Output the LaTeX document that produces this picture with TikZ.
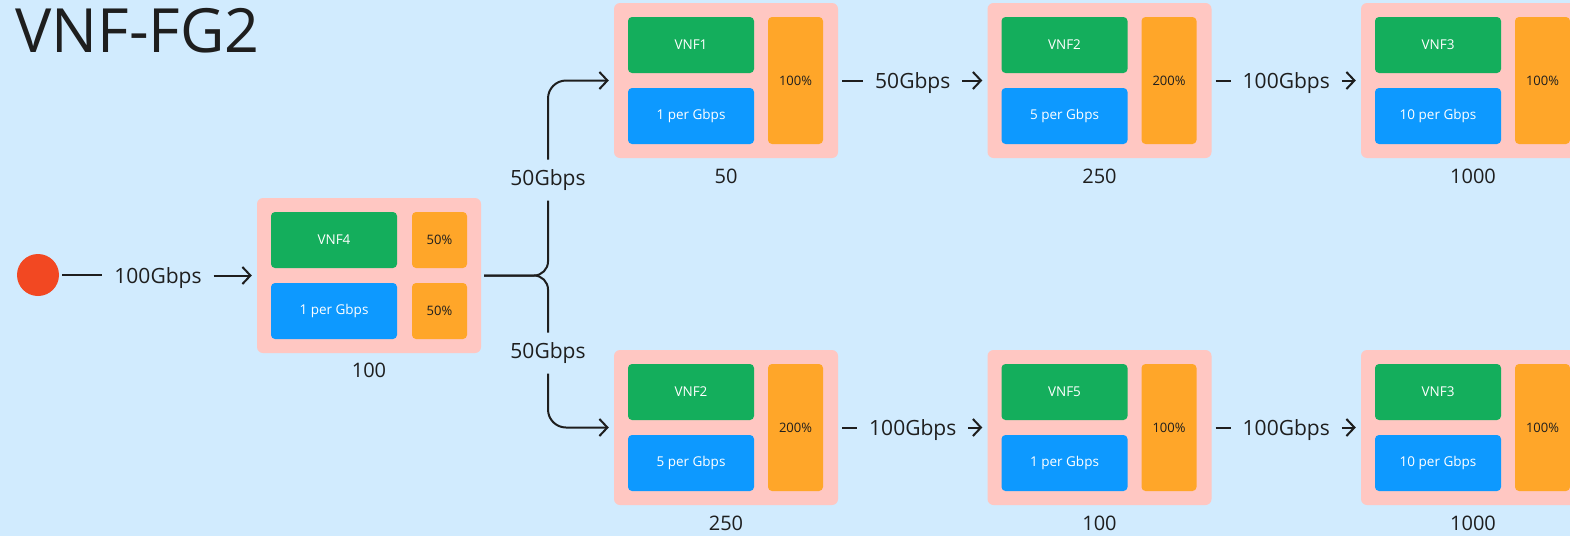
\documentclass[tikz,border=0pt]{standalone}
\usepackage{fontspec}
\setmainfont{Open Sans}
\usepackage{tikz}
\usetikzlibrary{arrows.meta,positioning,calc}
\definecolor{canvasblue}{HTML}{D1EBFE}
\definecolor{hostpink}{HTML}{FFC7C2}
\definecolor{vnfgreen}{HTML}{14AE5C}
\definecolor{costblue}{HTML}{0D99FF}
\definecolor{loadorange}{HTML}{FFA629}
\definecolor{srcred}{HTML}{F24822}
\definecolor{inkdark}{HTML}{1E1E1E}

\begin{document}
\begin{tikzpicture}[
  x=1pt, y=-1pt,
  every node/.style={text=inkdark},
  host/.style={fill=hostpink, rounded corners=6pt, minimum width=224pt,
    minimum height=155pt, inner sep=0pt},
  vnfbox/.style={fill=vnfgreen, text=white, rounded corners=4pt, inner sep=0pt,
    minimum width=126pt, minimum height=56pt, font=\fontsize{13.5}{16}\selectfont},
  costbox/.style={vnfbox, fill=costblue},
  loadbox/.style={fill=loadorange, rounded corners=4pt, inner sep=0pt,
    minimum width=55pt, font=\fontsize{13}{16}\selectfont},
  total/.style={font=\fontsize{20}{24}\selectfont, inner sep=0pt},
  rate/.style={font=\fontsize{21}{25}\selectfont, inner sep=0pt,
    outer xsep=12pt, outer ysep=10pt},
  flow/.style={draw=inkdark, line width=2pt},
  feed/.style={flow, -{Straight Barb[length=8pt,width=17pt]}, shorten >=5pt},
]

%% canvas
\fill[canvasblue] (0,0) rectangle (1570,536);
\clip (0,0) rectangle (1570,536);

\node[anchor=base west, font=\fontsize{61}{64}\selectfont] (title) at (12,52) {VNF-FG2};

%% source and the first host
\node[circle, fill=srcred, minimum size=42pt, inner sep=0pt] (src) at (38,275) {};

\node[host] (hub) at (369,275.5) {};
\node[vnfbox, anchor=north west] (hub-vnf) at ($(hub.north west)+(14,14)$) {VNF4};
\node[costbox, anchor=south west] (hub-cost) at ($(hub.south west)+(14,-14)$) {1 per Gbps};
\node[loadbox, minimum height=56pt, anchor=north east] (hub-load) at ($(hub.north east)+(-14,14)$) {50\%};
\node[loadbox, minimum height=56pt, anchor=south east] (hub-load2) at ($(hub.south east)+(-14,-14)$) {50\%};
\node[total] (hub-tot) at ($(hub.south)+(0,17)$) {100};

%% hosts on the two branches
\foreach \n/\cx/\cy/\vnf/\cost/\load/\tot in {
  up1/726/80.5/VNF1/{1 per Gbps}/100/50,
  up2/1099.5/80.5/VNF2/{5 per Gbps}/200/250,
  up3/1473/80.5/VNF3/{10 per Gbps}/100/1000,
  dn1/726/427.5/VNF2/{5 per Gbps}/200/250,
  dn2/1099.5/427.5/VNF5/{1 per Gbps}/100/100,
  dn3/1473/427.5/VNF3/{10 per Gbps}/100/1000%
}{
  \node[host] (\n) at (\cx,\cy) {};
  \node[vnfbox, anchor=north west] (\n-vnf) at ($(\n.north west)+(14,14)$) {\vnf};
  \node[costbox, anchor=south west] (\n-cost) at ($(\n.south west)+(14,-14)$) {\cost};
  \node[loadbox, minimum height=127pt, anchor=north east] (\n-load) at ($(\n.north east)+(-15,14)$) {\load\%};
  \node[total] (\n-tot) at ($(\n.south)+(0,18)$) {\tot};
}

%% links
\node[rate, yshift=-3pt] (r0) at ($(src.east)!0.5!(hub.west)$) {100Gbps};
\draw[flow, shorten <=3pt] (src) -- (src -| r0.west);
\draw[feed] (r0.east |- hub) -- (hub);

\foreach \a/\b/\lab/\r in {
  up1/up2/50Gbps/ru1,
  up2/up3/100Gbps/ru2,
  dn1/dn2/100Gbps/rd1,
  dn2/dn3/100Gbps/rd2%
}{
  \node[rate, yshift=-3pt] (\r) at ($(\a.east)!0.5!(\b.west)$) {\lab};
  \draw[flow, shorten <=4pt] (\a) -- (\a -| \r.west);
  \draw[feed] (\r.east |- \b) -- (\b);
}

%% split after VNF4
\node[rate] (split-up) at (548,180) {50Gbps};
\node[rate] (split-dn) at (548,353) {50Gbps};
\draw[flow, rounded corners=14pt, shorten <=3pt] (hub.east) -| (split-up.south);
\draw[flow, rounded corners=14pt, shorten <=3pt] (hub.east) -| (split-dn.north);
\draw[feed, rounded corners=18pt] (split-up.north) |- (up1.west);
\draw[feed, rounded corners=18pt] (split-dn.south) |- (dn1.west);

\end{tikzpicture}
\end{document}
